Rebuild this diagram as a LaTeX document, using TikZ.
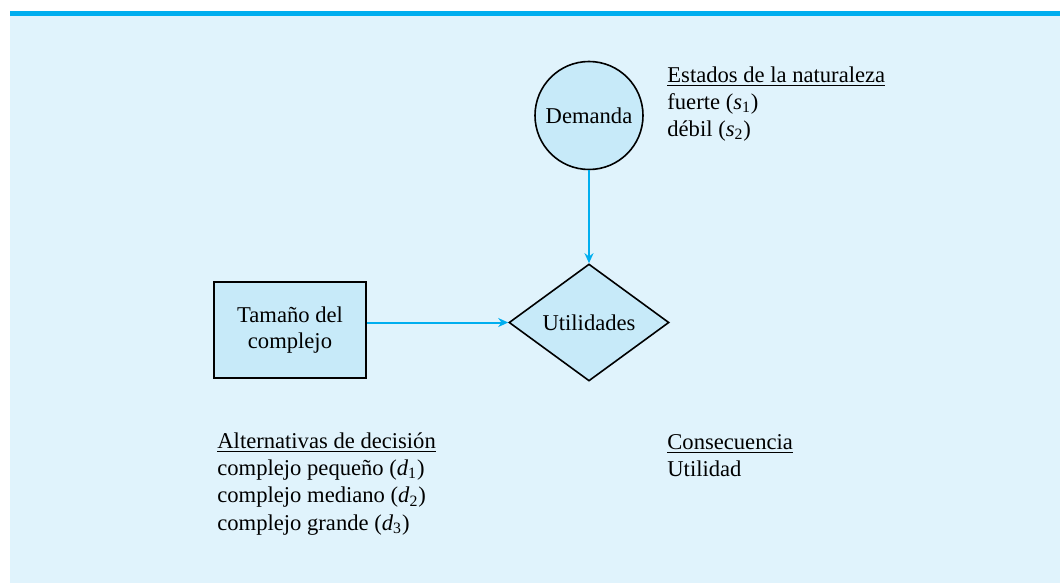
\documentclass[tikz,border=0pt]{standalone}
\usepackage{fontspec}
\setmainfont{Liberation Serif}
\usepackage{tikz}
\usetikzlibrary{arrows.meta,shapes.geometric,positioning,calc}

\definecolor{barblue}{RGB}{0,174,239}
\definecolor{paneblue}{RGB}{224,243,252}
\definecolor{nodeblue}{RGB}{199,234,249}

\begin{document}
\begin{tikzpicture}[
    x=0.5pt, y=-0.5pt,
    chance/.style={draw, circle, line width=0.8pt, fill=nodeblue, minimum size=54pt, inner sep=0pt, font=\fontsize{11.3}{13.3}\selectfont},
    decbox/.style={draw, rectangle, line width=0.8pt, fill=nodeblue, minimum width=76pt, minimum height=48pt, align=center, font=\fontsize{11.3}{13.3}\selectfont},
    value/.style={draw, diamond, line width=0.8pt, fill=nodeblue, minimum width=80pt, minimum height=58.5pt, inner sep=0pt, font=\fontsize{11.3}{13.3}\selectfont},
    arr/.style={-{Stealth[length=5pt,width=4.5pt]}, barblue, line width=1pt},
    lst/.style={anchor=base west, inner sep=0pt, align=left, font=\fontsize{11.3}{13.6}\selectfont}
]
\useasboundingbox (0,0) rectangle (1060,583);
% panel
\fill[paneblue] (9.5,16) rectangle (1060,583);
\fill[barblue] (9.5,11) rectangle (1060,16);

\node[chance] (dem) at (589,115.5) {Demanda};
\node[value] (util) at (589,322.5) {Utilidades};
\node[decbox] (tam) at (290,330) {Tamaño del\\complejo};

\draw[arr] (dem) -- (util);
\draw[arr] (tam.east |- util.west) -- (util.west);

% base anchor sits on the last line
\node[lst] (est) at (667,136.5) {\underline{Estados de la naturaleza}\\fuerte (\textit{s}\textsubscript{1})\\débil (\textit{s}\textsubscript{2})};
\node[lst] (alt) at (217,530) {\underline{Alternativas de decisión}\\complejo pequeño (\textit{d}\textsubscript{1})\\complejo mediano (\textit{d}\textsubscript{2})\\complejo grande (\textit{d}\textsubscript{3})};
\node[lst] (cons) at (667,476.5) {\underline{Consecuencia}\\Utilidad};
\end{tikzpicture}
\end{document}
